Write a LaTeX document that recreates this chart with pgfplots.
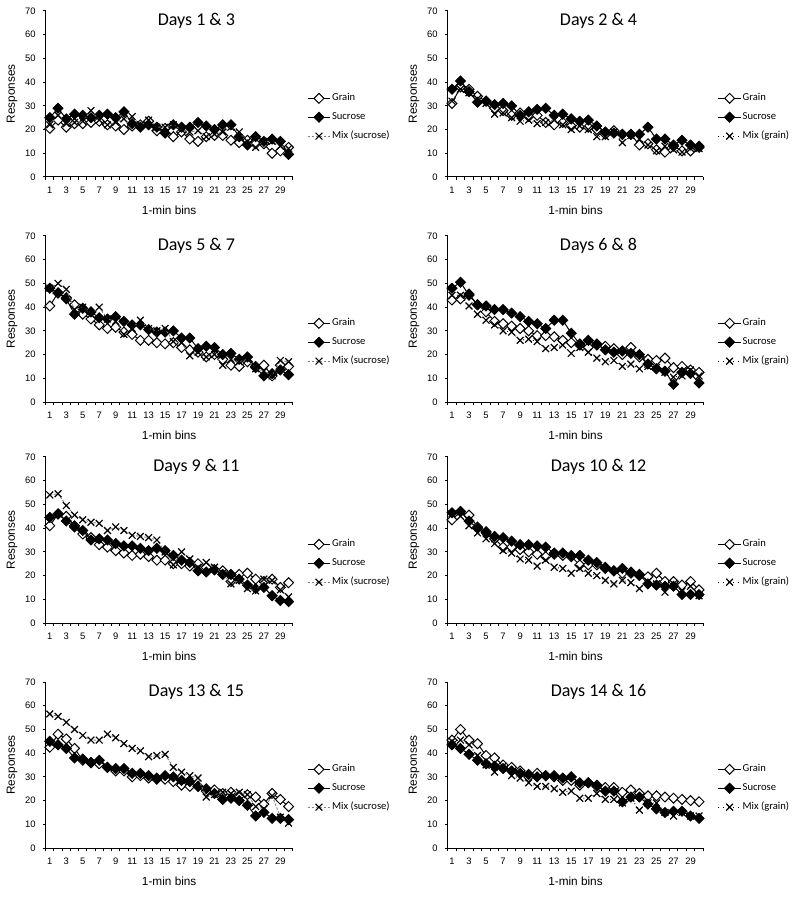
\documentclass[border=0pt]{standalone}
\usepackage{pgfplots}
\pgfplotsset{compat=1.18}
\usepackage{pgfplotstable}
\usepackage{fontspec}
\setmainfont{Liberation Sans}
\newfontfamily\calibri{Carlito}

\pgfplotstableread{
bin grain sucrose mix
1 20.5 25 22
2 24 29 26
3 21 24.5 22.5
4 22.5 26.5 23
5 22.5 26 23.5
6 23 25 28
7 23.5 26 24
8 22 26.5 22
9 21.5 25 23
10 20 27.5 24.5
11 21.5 22.5 25.5
12 22 21 22
13 23.5 22 24
14 19.5 21 21
15 20.5 18.5 21
16 17 22 22
17 19 21 20
18 16 21 19
19 15 23 19.5
20 17 21.5 17
21 17.5 20 18
22 17.5 22 19
23 15.5 22 21
24 14.5 17 19
25 15.5 13.5 15
26 14 17 12.5
27 14 15 15
28 10 16 15
29 11 15 13
30 12.5 9.5 12
}\tabA
\pgfplotstableread{
bin grain sucrose mix
1 31 37 32
2 38 40.5 37
3 37 36 35.5
4 34 31.5 33
5 32 32 31
6 29 30.5 26.5
7 28 31 27
8 26 30 25
9 27 26 23.5
10 25.5 27.5 24
11 26 28.5 22.5
12 23 29 23
13 22 26 24
14 23 26.5 22
15 21.5 24.5 20
16 21 23.5 21.5
17 21 24 20
18 20 21.5 17
19 18 19 17
20 19.5 18.5 19
21 18 18 14.5
22 18 18 17.5
23 13.5 18 16
24 14 21 13.5
25 11.5 16 11
26 10.5 16 13
27 13 13.5 11.5
28 11 15.5 10.5
29 11 13.5 12
30 12.5 13 12
}\tabB
\pgfplotstableread{
bin grain sucrose mix
1 40.5 48 48
2 46 46 50
3 44 43.5 47.5
4 41 37 39
5 37 39.5 40
6 35 38 37
7 32.5 35.5 40
8 31 35 35
9 31.5 36 34
10 29.5 34 28.5
11 28.5 32.5 31
12 26 32.5 34.5
13 26 30.5 31
14 25 29.5 30
15 24.5 29.5 31
16 25 30 25.5
17 23 27 25
18 22 27 19.5
19 21 22.5 21
20 19 23.5 19
21 20 23 20
22 18 20 15.5
23 15.5 20.5 18
24 15 18 17
25 17 19 18
26 15 14.5 14
27 15.5 11 13
28 11 12 11
29 15.5 13.5 17.5
30 15 11.5 17
}\tabC
\pgfplotstableread{
bin grain sucrose mix
1 43 48 45
2 43.5 50.5 45
3 45.5 45 40.5
4 41 41 37
5 38 40.5 34.5
6 34 39 32.5
7 33 39 30
8 32 37.5 29.5
9 31 36 26
10 30 34 26.5
11 28 33 25.5
12 28 31 22.5
13 27.5 34.5 23
14 26 34.5 24
15 25 29 20.5
16 24 24.5 23
17 23 26 21
18 24 24.5 18.5
19 23.5 22 17
20 22.5 21 17.5
21 20 21.5 15
22 23 20.5 16
23 19 20 14
24 18 16 15
25 17.5 14 14.5
26 18.5 13 12.5
27 14.5 7.5 10.5
28 15 12.5 11
29 13.5 12 13.5
30 12.5 8 11
}\tabD
\pgfplotstableread{
bin grain sucrose mix
1 41 44.5 54
2 46 46 54.5
3 45 43 49.5
4 41 40.5 45.5
5 37.5 39 43.5
6 36 35 42.5
7 33 35.5 42
8 32 35 39
9 30.5 33.5 40.5
10 29.5 32.5 39
11 28.5 32.5 37
12 29 31.5 36.5
13 28 30.5 36
14 26.5 31.5 35
15 26.5 30.5 30
16 25 28.5 24.5
17 25 26.5 30
18 24 25.5 27
19 25 22 23.5
20 23.5 21.5 25.5
21 22.5 22.5 23.5
22 22 20.5 21
23 17.5 20.5 16.5
24 20.5 18.5 18
25 21 16 14.5
26 18.5 14.5 13.5
27 17.5 15 18.5
28 18.5 11.5 18
29 15 9.5 14
30 17 9 11
}\tabE
\pgfplotstableread{
bin grain sucrose mix
1 43.5 46.5 46
2 47 47 45
3 45.5 43 41
4 40.5 40 38
5 38 38.5 35.5
6 35.5 36.5 33.5
7 32 36 30.5
8 32 34.5 29.5
9 31 33 27
10 30 33 26.5
11 29 32.5 24
12 28 32 26.5
13 29 29.5 23.5
14 28.5 29.5 23
15 28 28.5 21
16 24.5 28.5 23
17 24.5 26.5 21
18 24.5 25.5 20
19 23 23.5 18
20 22 22 16.5
21 21 23 18
22 21 21.5 17
23 20 20.5 14.5
24 19.5 16.5 17.5
25 21 16 16.5
26 17.5 15.5 13
27 17.5 15.5 16.5
28 16 12 13.5
29 17.5 12 15.5
30 14 12 11.5
}\tabF
\pgfplotstableread{
bin grain sucrose mix
1 42.5 45 56.5
2 48 43.5 55.5
3 46 42 53
4 42 38 50
5 37 37.5 47.5
6 36 36 45.5
7 35.5 37 45.5
8 34 34 48
9 32.5 33.5 46.5
10 32.5 33.5 44
11 30 31.5 42
12 30.5 31.5 41
13 29.5 30.5 38.5
14 29.5 29 39
15 29 30.5 39.5
16 28 30 34
17 26.5 28.5 32
18 26 28 30.5
19 26 26 29.5
20 24 25 21.5
21 24.5 23 22.5
22 23 20.5 23.5
23 23.5 21 23
24 22 20 23.5
25 22.5 18 22.5
26 21.5 13.5 17.5
27 18.5 15 16.5
28 23 12.5 22
29 20.5 12.5 13
30 17.5 12 10.5
}\tabG
\pgfplotstableread{
bin grain sucrose mix
1 45.5 43.5 45
2 50 42 45.5
3 45.5 39.5 43.5
4 44 37 39
5 39 35.5 35
6 38 34.5 32
7 35 33.5 34.5
8 34 32.5 30.5
9 32.5 31.5 29.5
10 30 31 27.5
11 31.5 30 26
12 30.5 30.5 26
13 30 30.5 25
14 28.5 29.5 23.5
15 28.5 30 24
16 26.5 27.5 21
17 27.5 27.5 21
18 26 26.5 23
19 25.5 24 20.5
20 25.5 24 20.5
21 23.5 19.5 19
22 24.5 21.5 21
23 23 21.5 16
24 22 18.5 19
25 22 16.5 19
26 21.5 15 15
27 21 15.5 13.5
28 20.5 15.5 15
29 20 13.5 13.5
30 19.5 12.5 13.5
}\tabH

\pgfplotsset{
  mixsuc/.style={gray, dash pattern=on 1.2pt off 0.8pt, line width=0.45pt},
  mixgra/.style={black, dotted, line width=0.45pt},
}

% #1 x, #2 y bottom, #3 width, #4 title, #5 table, #6 mix label, #7 mix style, #8 title rel x
\newcommand\panel[8]{%
\begin{axis}[
  at={(#1,#2)}, anchor=south west, scale only axis,
  width=#3, height=83pt,
  clip mode=individual,
  xmin=0.5, xmax=30.5, ymin=0, ymax=70,
  xtick={1,3,...,29}, minor xtick={0.5,1.5,...,30.5},
  ytick={0,10,...,70},
  major x tick style={draw=none},
  tick align=outside, major tick length=1.5pt, minor tick length=1.5pt,
  axis x line*=bottom, axis y line*=left,
  axis line style={-, black, line width=0.5pt},
  tick style={black, line width=0.5pt},
  ticklabel style={font=\fontsize{4.7}{5.5}\selectfont},
  /pgf/number format/assume math mode=true,
  legend style={at={(1,0.36)}, anchor=west, xshift=7pt, draw=none, fill=none,
    font=\calibri\fontsize{5.3}{6}\selectfont, row sep=3.25pt, inner sep=0pt,
    nodes={inner sep=0.6pt, text height=3.8pt, text depth=1.2pt}},
  legend cell align=left,
  legend image code/.code={\draw[mark repeat=2,mark phase=2,##1] plot coordinates {(0cm,0cm) (0.2cm,0cm) (0.4cm,0cm)};},
]
\addplot[black, line width=0.5pt, mark=square*, mark size=1.75pt, mark options={rotate=45, fill=white, solid, line width=0.5pt}] table[x=bin,y=grain]{#5};
\addlegendentry{Grain}
\addplot[black, line width=0.5pt, mark=square*, mark size=1.75pt, mark options={rotate=45, fill=black, solid}] table[x=bin,y=sucrose]{#5};
\addlegendentry{Sucrose}
\addplot[#7, mark=x, mark size=2.4pt, mark options={solid, black, line width=0.6pt}] table[x=bin,y=mix]{#5};
\addlegendentry{#6}
\node[font=\calibri\fontsize{9}{10}\selectfont] at (rel axis cs:#8,0.94) {#4};
\node[font=\fontsize{5.9}{7}\selectfont, rotate=90] at ([xshift=-16.8pt]rel axis cs:0,0.5) {Responses};
\node[font=\fontsize{5.9}{7}\selectfont] at ([yshift=-16.5pt]rel axis cs:0.5,0) {1-min bins};
\end{axis}}

\begin{document}
\begin{tikzpicture}
\path[use as bounding box] (0,0) rectangle (400pt,-448.5pt);
\panel{22.85pt}{-88.5pt}{123.5pt}{Days 1 \& 3}{\tabA}{Mix (sucrose)}{mixsuc}{0.61}
\panel{223.85pt}{-88.5pt}{127.8pt}{Days 2 \& 4}{\tabB}{Mix (grain)}{mixgra}{0.59}
\panel{22.85pt}{-201pt}{123.5pt}{Days 5 \& 7}{\tabC}{Mix (sucrose)}{mixsuc}{0.61}
\panel{223.85pt}{-201pt}{127.8pt}{Days 6 \& 8}{\tabD}{Mix (grain)}{mixgra}{0.59}
\panel{22.85pt}{-311.5pt}{123.5pt}{Days 9 \& 11}{\tabE}{Mix (sucrose)}{mixsuc}{0.61}
\panel{223.85pt}{-311.5pt}{127.8pt}{Days 10 \& 12}{\tabF}{Mix (grain)}{mixgra}{0.59}
\panel{22.85pt}{-424pt}{123.5pt}{Days 13 \& 15}{\tabG}{Mix (sucrose)}{mixsuc}{0.61}
\panel{223.85pt}{-424pt}{127.8pt}{Days 14 \& 16}{\tabH}{Mix (grain)}{mixgra}{0.59}
\end{tikzpicture}
\end{document}
